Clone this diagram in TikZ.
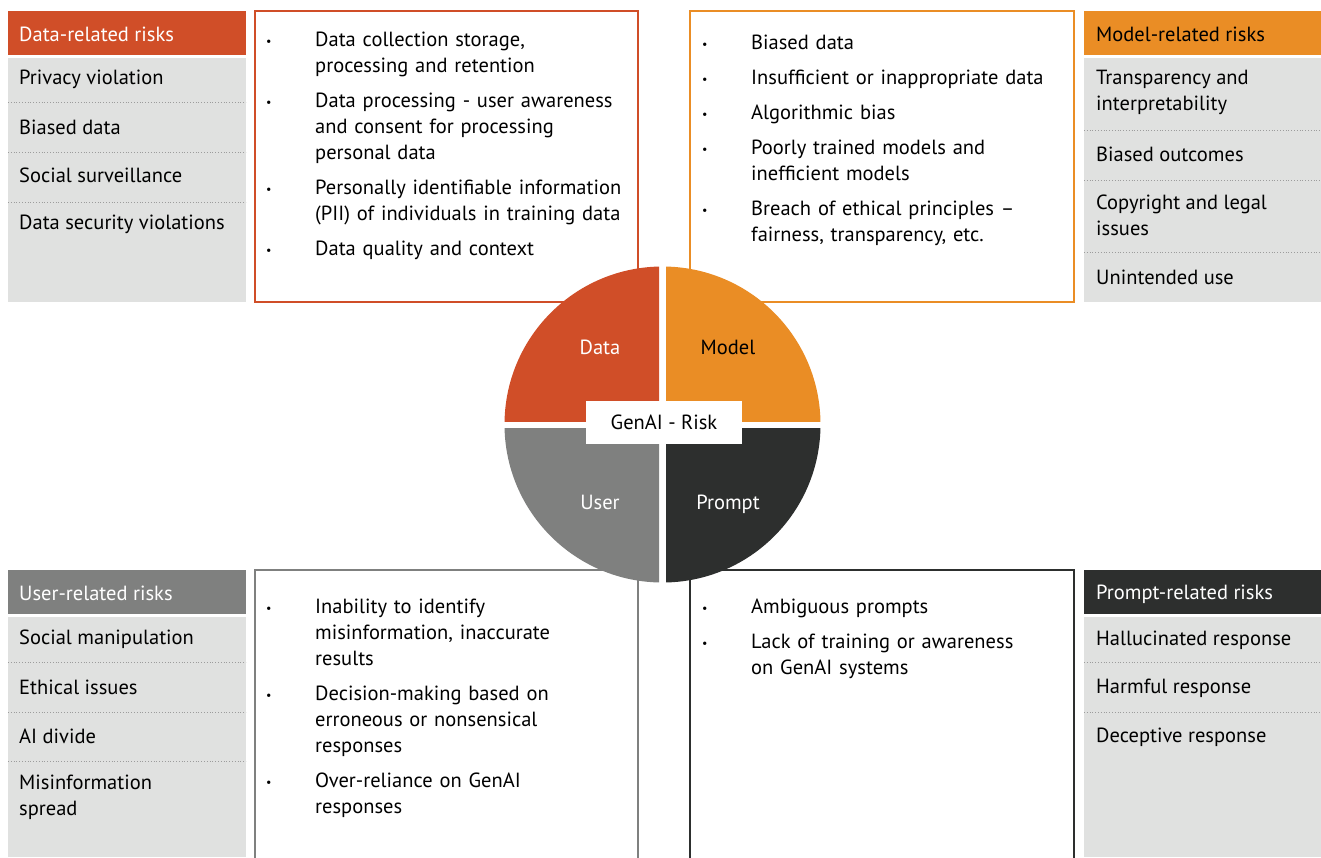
\documentclass[tikz,border=0pt]{standalone}
\usepackage{fontspec}
\setmainfont{PT Sans}
\definecolor{datacol}{HTML}{D04E28}
\definecolor{modelcol}{HTML}{EA8D25}
\definecolor{usercol}{HTML}{7F807F}
\definecolor{promptcol}{HTML}{2D2F2E}
\definecolor{panelgray}{HTML}{E0E1E0}
\definecolor{dotgray}{HTML}{9C9C9C}
\newcommand\riskitem[1]{\noindent\hangindent=49pt\hangafter=1\makebox[49pt][l]{\raisebox{1.5pt}{\fontsize{12}{12}\selectfont•}}#1\par}
\newcommand\riskgap{\vspace{9pt}}
\begin{document}
\begin{tikzpicture}[x=1pt, y=-1pt,
  txt/.style={inner sep=0pt, font=\fontsize{20.5}{26}\selectfont},
  rowtext/.style={txt, anchor=west, align=left},
  hdrtext/.style={txt, anchor=west},
  riskbox/.style={txt, anchor=north west, text width=400pt},
  sep/.style={draw=dotgray, dotted, line width=0.8pt},
  frame/.style={line width=1.8pt}]
\useasboundingbox (0,0) rectangle (1321,857);
\fill[white] (0,0) rectangle (1321,857);

%% left column: data-related / user-related
\fill[datacol] (8,11) rectangle (246,55); \fill[panelgray] (8,58) rectangle (246,302);
\fill[usercol] (8,570) rectangle (246,614); \fill[panelgray] (8,617) rectangle (246,857);
\draw[sep] (8,102) -- (246,102); \draw[sep] (8,152) -- (246,152); \draw[sep] (8,202) -- (246,202);
\draw[sep] (8,662) -- (246,662); \draw[sep] (8,712) -- (246,712); \draw[sep] (8,761) -- (246,761);

\node[hdrtext, text=white] (datahdr) at (19,34) {Data-related risks};
\node[rowtext] (data1) at (19,79) {Privacy violation};
\node[rowtext] (data2) at (19,127) {Biased data};
\node[rowtext] (data3) at (19,175) {Social surveillance};
\node[rowtext] (data4) at (19,224) {Data security violations};

\node[hdrtext, text=white] (userhdr) at (19,593) {User-related risks};
\node[rowtext] (user1) at (19,639) {Social manipulation};
\node[rowtext] (user2) at (19,687) {Ethical issues};
\node[rowtext] (user3) at (19,736) {AI divide};
\node[rowtext] (user4) at (19,797) {Misinformation\\spread};

%% right column: model-related / prompt-related
\fill[modelcol] (1084,11) rectangle (1321,55); \fill[panelgray] (1084,58) rectangle (1321,302);
\fill[promptcol] (1084,570) rectangle (1321,614); \fill[panelgray] (1084,617) rectangle (1321,857);
\draw[sep] (1084,130) -- (1321,130); \draw[sep] (1084,180) -- (1321,180); \draw[sep] (1084,252) -- (1321,252);
\draw[sep] (1084,662) -- (1321,662); \draw[sep] (1084,712) -- (1321,712);

\node[hdrtext] (modelhdr) at (1096,34) {Model-related risks};
\node[rowtext] (model1) at (1096,92) {Transparency and\\interpretability};
\node[rowtext] (model2) at (1096,154) {Biased outcomes};
\node[rowtext] (model3) at (1096,215) {Copyright and legal\\issues};
\node[rowtext] (model4) at (1096,277) {Unintended use};

\node[hdrtext, text=white] (prompthdr) at (1096,594) {Prompt-related risks};
\node[rowtext] (prompt1) at (1096,640) {Hallucinated response};
\node[rowtext] (prompt2) at (1096,688) {Harmful response};
\node[rowtext] (prompt3) at (1096,737) {Deceptive response};

%% framed lists
\draw[frame, datacol] (255,11) rectangle (638,302);
\draw[frame, modelcol] (690,11) rectangle (1074,302);
\draw[frame, usercol] (255,862) -- (255,570) -- (638,570) -- (638,862);
\draw[frame, promptcol] (690,862) -- (690,570) -- (1074,570) -- (1074,862);

\node[riskbox] (datalist) at (266,32) {\riskitem{Data collection storage,\newline processing and retention}\riskgap
 \riskitem{Data processing - user awareness\newline and consent for processing\newline personal data}\riskgap
 \riskitem{Personally identifiable information\newline (PII) of individuals in training data}\riskgap
 \riskitem{Data quality and context}};
\node[riskbox] (modellist) at (702,35) {\riskitem{Biased data}\riskgap
 \riskitem{Insufficient or inappropriate data}\riskgap
 \riskitem{Algorithmic bias}\riskgap
 \riskitem{Poorly trained models and\newline inefficient models}\riskgap
 \riskitem{Breach of ethical principles –\newline fairness, transparency, etc.}};
\node[riskbox] (userlist) at (266,599) {\riskitem{Inability to identify\newline misinformation, inaccurate\newline results}\riskgap
 \riskitem{Decision-making based on\newline erroneous or nonsensical\newline responses}\riskgap
 \riskitem{Over-reliance on GenAI\newline responses}};
\node[riskbox] (promptlist) at (702,599) {\riskitem{Ambiguous prompts}\riskgap
 \riskitem{Lack of training or awareness\newline on GenAI systems}};

%% hub circle, four quarters
\coordinate (hub) at (662.5,424.5);
\begin{scope} \clip (500,260) rectangle (659,421); \fill[datacol] (hub) circle (158); \end{scope}
\begin{scope} \clip (666,260) rectangle (825,421); \fill[modelcol] (hub) circle (158); \end{scope}
\begin{scope} \clip (500,428) rectangle (659,590); \fill[usercol] (hub) circle (158); \end{scope}
\begin{scope} \clip (666,428) rectangle (825,590); \fill[promptcol] (hub) circle (158); \end{scope}

\node[txt, text=white] (dataq) at (600,347) {Data};
\node[txt] (modelq) at (728,347) {Model};
\node[txt, text=white] (userq) at (600,502) {User};
\node[txt, text=white] (promptq) at (728,504) {Prompt};
\node[txt, fill=white, minimum width=156pt, minimum height=43pt] (hubbox) at (664,422.5) {GenAI - Risk};

\end{tikzpicture}
\end{document}
